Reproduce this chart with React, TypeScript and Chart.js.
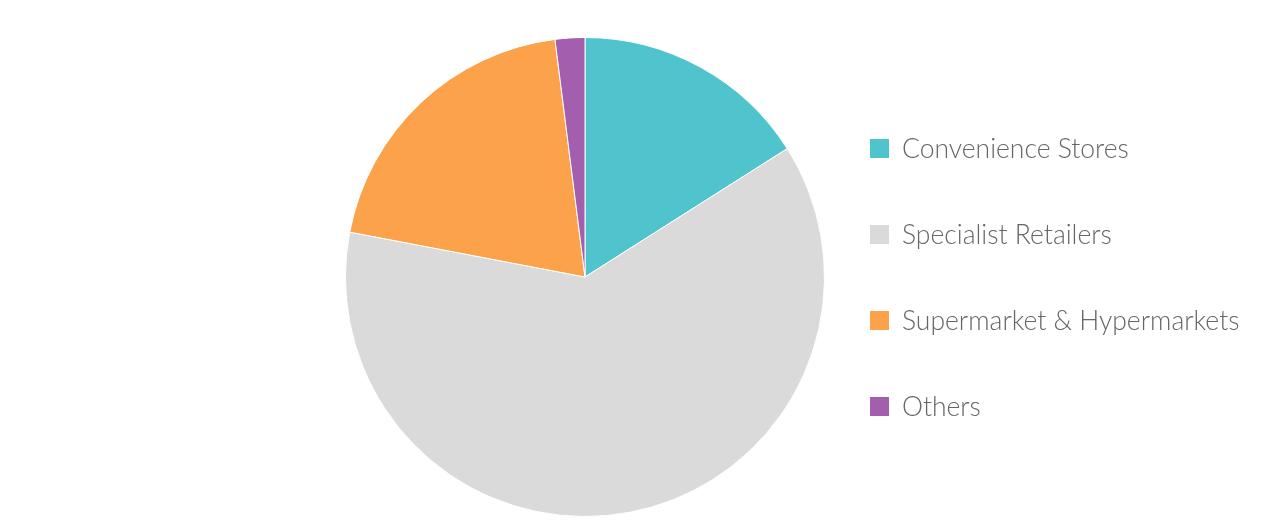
import { useEffect, useRef } from 'react';
import { Chart, registerables } from 'chart.js';

Chart.register(...registerables);

const labels = ['Convenience Stores', 'Specialist Retailers', 'Supermarket & Hypermarkets', 'Others'];
const shares = [16, 62, 20, 2];
const colors = ['#50c4cc', '#dadada', '#fba24b', '#a35fad'];

export default function App() {
  const canvasRef = useRef<HTMLCanvasElement>(null);
  const chartRef = useRef<Chart | null>(null);

  useEffect(() => {
    if (!canvasRef.current) return;
    if (chartRef.current) chartRef.current.destroy();

    chartRef.current = new Chart(canvasRef.current, {
      type: 'pie',
      data: {
        labels,
        datasets: [{
          data: shares,
          backgroundColor: colors,
          borderColor: '#ffffff',
          borderWidth: 1,
        }],
      },
      options: {
        animation: false,
        responsive: true,
        maintainAspectRatio: false,
        layout: { padding: { top: 29, bottom: 5, left: 337, right: 431 } },
        plugins: {
          legend: { display: false },
          tooltip: { enabled: false },
        },
      },
    });

    return () => {
      chartRef.current?.destroy();
      chartRef.current = null;
    };
  }, []);

  return (
    <div style={{ position: 'relative', width: 1248, height: 514 }}>
      <canvas ref={canvasRef} />
      {/* legenda em HTML, à direita do gráfico */}
      <div style={{ position: 'absolute', left: 862, top: 97, fontFamily: 'Lato, sans-serif' }}>
        {labels.map((label, i) => (
          <div key={label} style={{ display: 'flex', alignItems: 'center', height: 86 }}>
            <span style={{ width: 19, height: 19, background: colors[i], marginRight: 13, flexShrink: 0 }} />
            <span style={{ fontSize: 26.5, fontWeight: 300, color: '#666666', whiteSpace: 'nowrap' }}>{label}</span>
          </div>
        ))}
      </div>
    </div>
  );
}
